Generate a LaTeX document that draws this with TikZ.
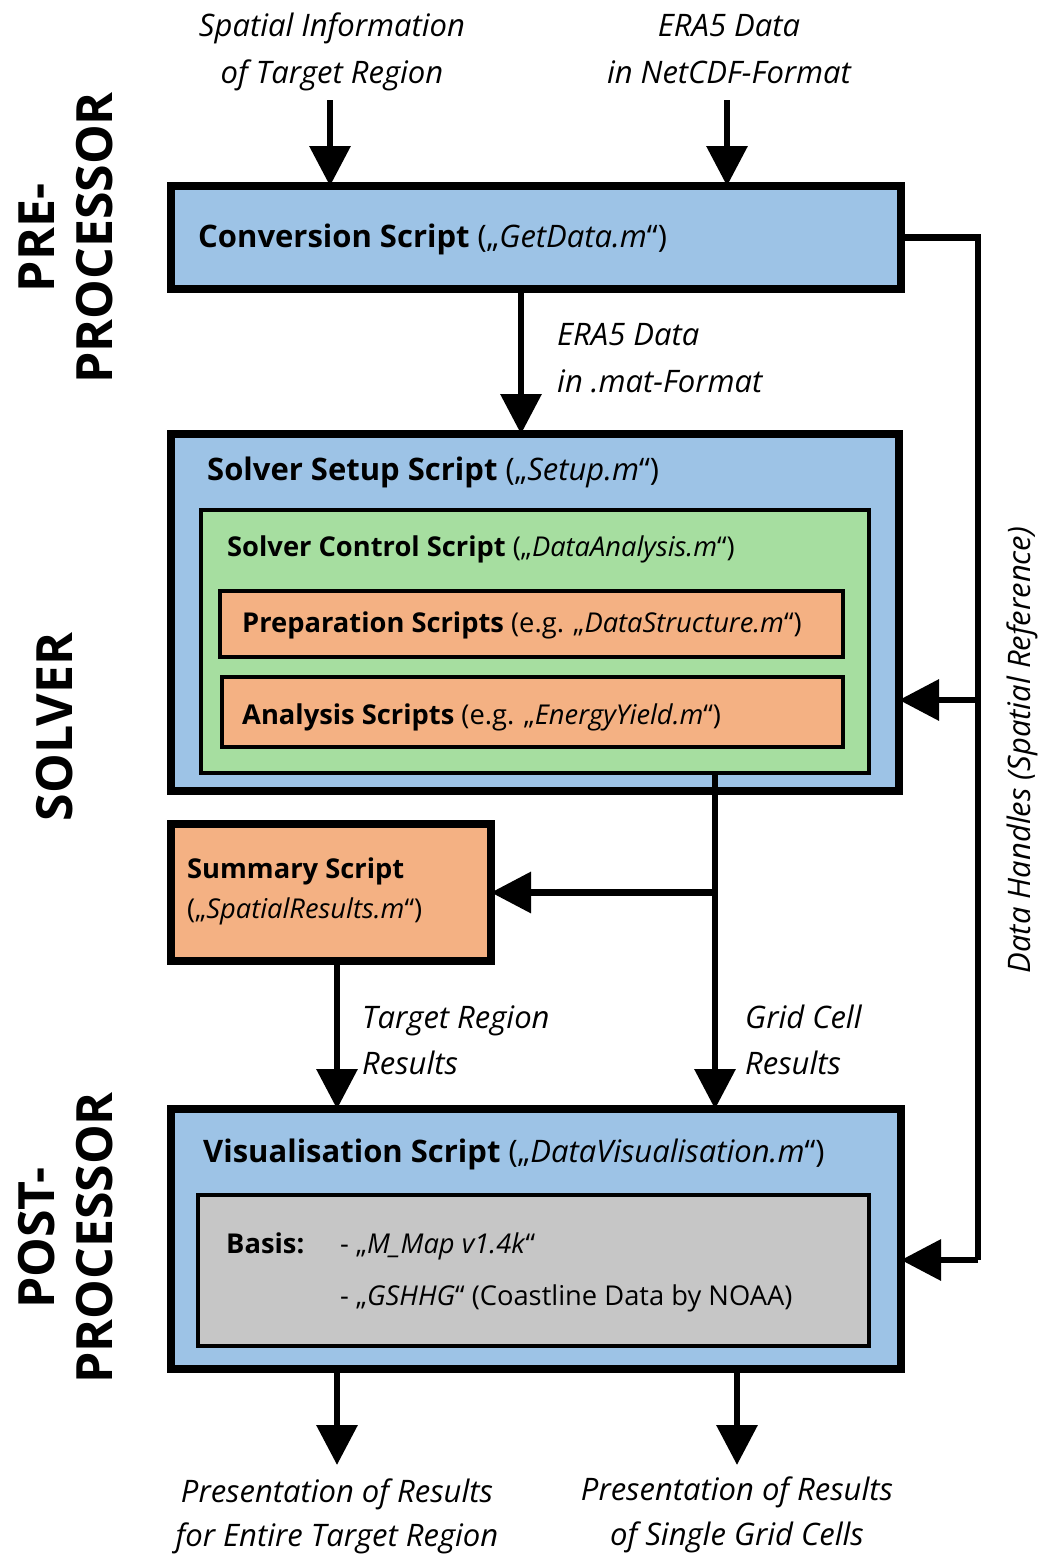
\documentclass[tikz,border=0pt]{standalone}
\usepackage{fontspec}
\setmainfont{Open Sans}
\newfontfamily\boxfont{Open Sans}
\usetikzlibrary{arrows.meta}
\definecolor{cblue}{HTML}{9DC3E6}
\definecolor{cgreen}{HTML}{A6DEA0}
\definecolor{corange}{HTML}{F4B183}
\definecolor{cgray}{HTML}{C6C6C6}
\tikzset{
  bigbox/.style={draw=black, line width=8pt, inner sep=0pt, outer sep=0pt},
  smallbox/.style={draw=black, line width=4pt, inner sep=0pt, outer sep=0pt},
  conn/.style={line width=6.5pt, -{Triangle[length=40pt,width=40pt]}},
  line/.style={line width=6.5pt},
  lbl/.style={font=\fontsize{31}{46}\selectfont\itshape, align=left, inner sep=0pt},
  lblc/.style={font=\fontsize{31}{46}\selectfont\itshape, align=center, inner sep=0pt},
  side/.style={font=\fontsize{50}{58}\selectfont\bfseries, align=center, rotate=90, inner sep=0pt},
  title/.style={font=\boxfont\fontsize{31}{38}\selectfont, anchor=base west, inner sep=0pt},
  sub/.style={font=\boxfont\fontsize{27.3}{40}\selectfont, anchor=base west, inner sep=0pt},
}
\begin{document}
\begin{tikzpicture}[x=1pt,y=-1pt]
\useasboundingbox (0,0) rectangle (1046,1555);
% boxes
\node[bigbox, fill=cblue, minimum width=730pt, minimum height=103pt] (conv) at (536,237.5) {};
\node[bigbox, fill=cblue, minimum width=728pt, minimum height=357pt] (setup) at (535,612.5) {};
\node[smallbox, fill=cgreen, minimum width=668pt, minimum height=263pt] (ctrl) at (535,641.5) {};
\node[smallbox, fill=corange, minimum width=623pt, minimum height=66pt] (prep) at (531.5,624) {};
\node[smallbox, fill=corange, minimum width=621pt, minimum height=70pt] (anal) at (532.5,712) {};
\node[bigbox, fill=corange, minimum width=320pt, minimum height=137pt] (summ) at (331,892.5) {};
\node[bigbox, fill=cblue, minimum width=730pt, minimum height=260pt] (vis) at (536,1239) {};
\node[smallbox, fill=cgray, minimum width=671pt, minimum height=151pt] (basis) at (533.5,1270.5) {};
% box texts
\node[title] (tconv) at (198,247) {\textbf{Conversion Script} („\textit{GetData.m}“)};
\node[title] (tsetup) at (207,480) {\textbf{Solver Setup Script} („\textit{Setup.m}“)};
\node[sub] (tctrl) at (227,556) {\textbf{Solver Control Script} („\textit{DataAnalysis.m}“)};
\node[sub] (tprep) at (242,632) {\textbf{Preparation Scripts} (e.g. „\textit{DataStructure.m}“)};
\node[sub] (tanal) at (242,724) {\textbf{Analysis Scripts} (e.g. „\textit{EnergyYield.m}“)};
\node[sub] (tsumm1) at (187,878) {\textbf{Summary Script}};
\node[sub] (tsumm2) at (187,918) {(„\textit{SpatialResults.m}“)};
\node[title] (tvis) at (203,1162) {\textbf{Visualisation Script} („\textit{DataVisualisation.m}“)};
\node[sub] (tbasis) at (226,1253) {\textbf{Basis:}};
\node[sub] (tb1) at (340,1253) {- „\textit{M\_Map v1.4k}“};
\node[sub] (tb2) at (340,1305) {- „\textit{GSHHG}“ (Coastline Data by NOAA)};
% side labels
\node[side] (spre) at (66,238) {PRE-\\PROCESSOR};
\node[side] (ssol) at (55,727) {SOLVER};
\node[side] (spost) at (66,1238) {POST-\\PROCESSOR};
% outside labels
\node[lblc, anchor=base] (lin1) at (332,37) {Spatial Information};
\node[lblc, anchor=base] (lin1b) at (332,84) {of Target Region};
\node[lblc, anchor=base] (lin2) at (729,37) {ERA5 Data};
\node[lblc, anchor=base] (lin2b) at (729,84) {in NetCDF-Format};
\node[lbl, anchor=base west] (lmat) at (557,345) {ERA5 Data};
\node[lbl, anchor=base west] (lmatb) at (557,392) {in .mat-Format};
\node[lbl, anchor=base west] (ltr) at (362,1028) {Target Region};
\node[lbl, anchor=base west] (ltrb) at (362,1074) {Results};
\node[lbl, anchor=base west] (lgc) at (745,1028) {Grid Cell};
\node[lbl, anchor=base west] (lgcb) at (745,1074) {Results};
\node[lblc, anchor=base] (lo1) at (337,1502) {Presentation of Results};
\node[lblc, anchor=base] (lo1b) at (337,1546) {for Entire Target Region};
\node[lblc, anchor=base] (lo2) at (737,1500) {Presentation of Results};
\node[lblc, anchor=base] (lo2b) at (737,1545) {of Single Grid Cells};
\node[lblc, rotate=90] (ldh) at (1022,750) {Data Handles (Spatial Reference)};
% coordinates
\coordinate (in1) at (330,100);
\coordinate (in2) at (727,100);
\coordinate (c1) at (521,293);
\coordinate (dhTop) at (978,237.5);
\coordinate (dhMid) at (978,700);
\coordinate (dhBot) at (978,1260);
\coordinate (g1) at (715,773);
\coordinate (br) at (715,892.5);
\coordinate (s1) at (337,961);
\coordinate (o1) at (337,1465);
\coordinate (o2) at (737,1465);
% connectors
\draw[conn] (in1) -- (in1 |- conv.north);
\draw[conn] (in2) -- (in2 |- conv.north);
\draw[conn] (c1 |- conv.south) -- (c1 |- setup.north);
\draw[line] (conv.east) -- (dhTop) -- (dhBot);
\draw[conn] (dhBot) -- (dhBot -| vis.east);
\draw[conn] (dhMid) -- (dhMid -| setup.east);
\draw[conn] (g1) -- (g1 |- vis.north);
\draw[conn] (br) -- (summ.east);
\draw[conn] (s1 |- summ.south) -- (s1 |- vis.north);
\draw[conn] (o1 |- vis.south) -- (o1);
\draw[conn] (o2 |- vis.south) -- (o2);
\end{tikzpicture}
\end{document}
